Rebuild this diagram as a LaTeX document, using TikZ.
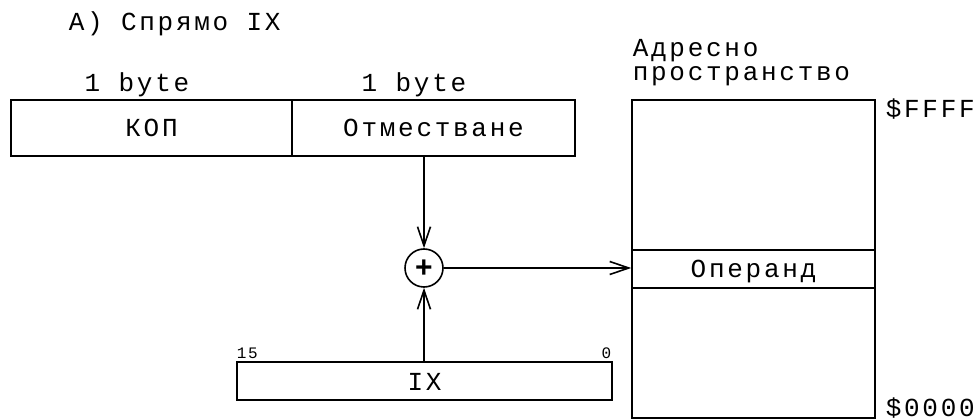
\documentclass[tikz,border=0pt]{standalone}
\usepackage{fontspec}
\setmainfont{Liberation Mono}[LetterSpace=10.5]
\newfontfamily\plusfont{Liberation Sans}
\usetikzlibrary{arrows.meta}
\begin{document}
\begin{tikzpicture}[x=1pt,y=-1pt,line width=1.6pt,
  every node/.style={font=\fontsize{26pt}{30pt}\selectfont},
  cell/.style={draw, rectangle, inner sep=0pt, text height=18pt, text depth=0pt},
  small/.style={font=\fontsize{16pt}{18pt}\selectfont, inner sep=0pt},
  lbl/.style={inner sep=0pt},
  arr/.style={-{Straight Barb[length=19pt,width=13pt,line width=1.6pt]}}]
\useasboundingbox (0,0) rectangle (977,419);
% title
\node[lbl, anchor=base west] (title) at (68,31) {А) Спрямо IX};
% instruction
\node[cell, minimum width=281pt, minimum height=56pt] (kop) at (151.5,128) {КОП};
\node[cell, minimum width=283pt, minimum height=56pt] (otm) at (433.5,128) {Отместване};
\node[lbl, anchor=base] (b1) at (137,92) {1 byte};
\node[lbl, anchor=base] (b2) at (414,92) {1 byte};
% memory
\node[lbl, anchor=base west] (adr1) at (632,57) {Адресно};
\node[lbl, anchor=base west] (adr2) at (632,81) {пространство};
\node[cell, minimum width=243pt, minimum height=318pt] (mem) at (753.5,259) {};
\node[cell, minimum width=243pt, minimum height=38pt] (op) at (753.5,269) {Операнд};
\node[lbl, anchor=base west] (ffff) at (885,118) {\$FFFF};
\node[lbl, anchor=base west] (zero) at (885,416) {\$0000};
% adder
\node[draw, circle, minimum size=38pt, inner sep=0pt, text height=20pt, text depth=0pt, font=\plusfont\bfseries\fontsize{30pt}{32pt}\selectfont] (sum) at (424,268) {+};
% IX register
\node[cell, minimum width=375pt, minimum height=38pt] (ix) at (424.5,381) {IX};
\node[small, anchor=base west] (b15) at (236,359) {15};
\node[small, anchor=base east] (b0) at (612,359) {0};
% connectors
\draw[arr] (sum.north |- otm.south) -- (sum.north);
\draw[arr] (sum.south |- ix.north) -- (sum.south);
\draw[arr] (sum.east) -- (sum.east -| op.west);
\end{tikzpicture}
\end{document}
